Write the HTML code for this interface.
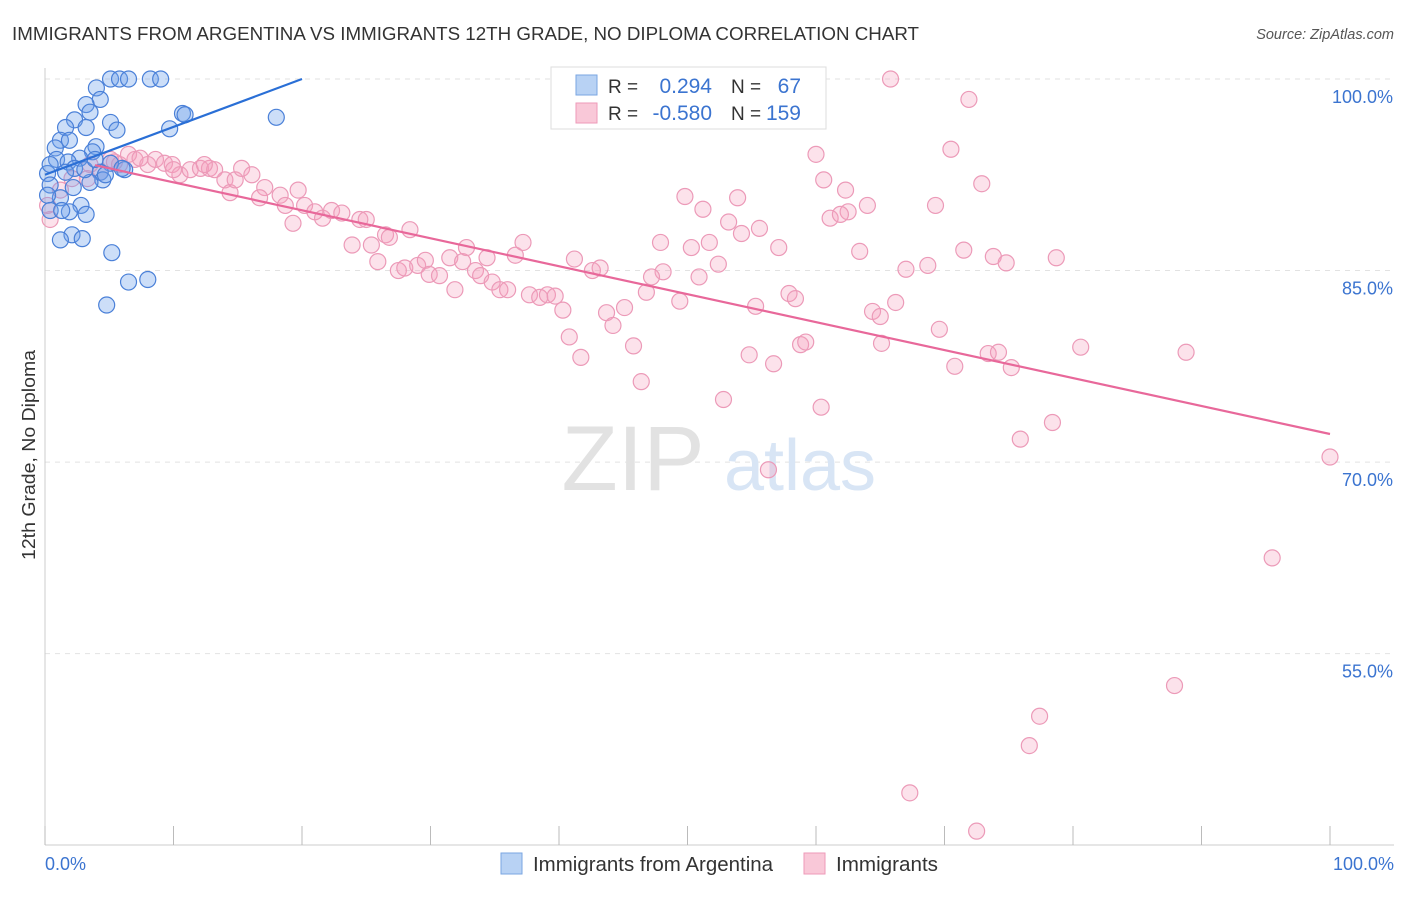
<!DOCTYPE html>
<html><head><meta charset="utf-8"><style>
body{margin:0;background:#fff;font-family:"Liberation Sans",sans-serif;}
svg text{font-family:"Liberation Sans",sans-serif;}
</style></head><body>
<svg id="chart" width="1406" height="892">
<text x="12" y="40" font-size="18.6" fill="#333" textLength="907" lengthAdjust="spacingAndGlyphs">IMMIGRANTS FROM ARGENTINA VS IMMIGRANTS 12TH GRADE, NO DIPLOMA CORRELATION CHART</text>
<text x="1394" y="39" font-size="14.5" fill="#555" font-style="italic" text-anchor="end">Source: ZipAtlas.com</text>
<text transform="translate(35,455) rotate(-90)" font-size="18" fill="#333" text-anchor="middle" textLength="210" lengthAdjust="spacingAndGlyphs">12th Grade, No Diploma</text>
<g id="grid"></g>
<g>
<text x="633" y="490" font-size="92" fill="#e2e2e2" font-family="Liberation Serif" text-anchor="middle">ZIP</text>
<text x="800" y="490" font-size="72" fill="#d8e5f5" text-anchor="middle">atlas</text>
</g>
<g id="pts"></g>
<g id="lines"></g>
<g>
<rect x="551" y="67" width="275" height="62" fill="#fff" stroke="#ddd"/>
<rect x="576" y="75" width="21" height="20" fill="#b8d2f4" stroke="#7aa6e2"/>
<rect x="576" y="103" width="21" height="20" fill="#f9c8d8" stroke="#ee9ab8"/>
<text x="608" y="93" font-size="19" fill="#333">R = </text><text x="712" y="93" font-size="21" fill="#3b74d0" text-anchor="end">0.294</text>
<text x="731" y="93" font-size="19" fill="#333">N = </text><text x="801" y="93" font-size="21" fill="#3b74d0" text-anchor="end">67</text>
<text x="608" y="120" font-size="19" fill="#333">R = </text><text x="712" y="120" font-size="21" fill="#3b74d0" text-anchor="end">-0.580</text>
<text x="731" y="120" font-size="19" fill="#333">N = </text><text x="801" y="120" font-size="21" fill="#3b74d0" text-anchor="end">159</text>
</g>
<g>
<rect x="501" y="853" width="21" height="21" fill="#b8d2f4" stroke="#7aa6e2"/>
<text x="533" y="871" font-size="20" fill="#333" textLength="240" lengthAdjust="spacingAndGlyphs">Immigrants from Argentina</text>
<rect x="804" y="853" width="21" height="21" fill="#f9c8d8" stroke="#ee9ab8"/>
<text x="836" y="871" font-size="20" fill="#333" textLength="102" lengthAdjust="spacingAndGlyphs">Immigrants</text>
</g>
</svg>
<script>
const xTicks=[0,10,20,30,40,50,60,70,80,90,100];
const yTicks=[100,85,70,55];
const yTickLabels=["100.0%","85.0%","70.0%","55.0%"];
const xEndLabels=["0.0%","100.0%"];
const blueX=[5.1,5.8,6.5,8.2,9.0,4.0,4.3,3.2,3.5,10.7,10.9,18.0,2.3,5.1,1.6,3.2,5.6,9.7,1.2,1.9,0.8,3.97,3.7,2.7,0.9,1.8,5.1,2.3,1.6,0.2,4.3,6.2,4.5,3.5,0.4,2.2,1.2,0.2,2.8,0.4,1.9,1.3,3.2,2.1,1.2,2.9,5.2,6.5,8.0,4.8,0.4,3.1,3.9,4.7,6.0];
const blueY=[100,100,100,100,100,99.3,98.4,98.0,97.4,97.3,97.2,97.0,96.8,96.6,96.2,96.2,96.0,96.1,95.2,95.2,94.6,94.7,94.3,93.8,93.7,93.5,93.4,93.0,92.7,92.6,92.7,92.9,92.1,91.9,91.7,91.5,90.7,90.9,90.1,89.7,89.6,89.7,89.4,87.8,87.4,87.5,86.4,84.1,84.3,82.3,93.3,92.9,93.7,92.5,93.0];
const pinkX=[65.8,71.9,70.5,60.0,72.9,60.6,62.3,49.8,53.9,64.0,69.3,51.2,62.5,61.1,61.9,53.2,55.6,54.2,47.9,51.7,50.3,57.1,63.4,71.5,73.8,74.8,78.7,52.4,68.7,67.0,41.2,42.6,43.2,48.1,47.2,50.9,46.8,49.4,57.9,58.4,55.3,66.2,64.4,65.0,69.6,45.1,43.7,44.2,40.8,45.8,41.7,46.4,54.8,56.7,58.8,59.2,65.1,70.8,73.4,74.2,75.2,80.6,88.8,52.8,60.4,75.9,78.4,56.3,100,95.5,87.9,77.4,76.6,67.3,72.5,
0.4,0.2,1.2,2.1,3.3,4.3,5.1,5.8,7.0,8.0,8.6,9.3,9.9,10.5,11.3,12.1,12.8,13.2,14.0,14.4,14.8,15.3,16.1,17.1,16.7,18.3,18.7,19.3,19.7,20.2,21.0,21.6,22.3,23.1,23.9,24.5,25.0,25.4,25.9,26.5,26.8,27.5,28.0,28.4,29.0,29.6,29.9,30.7,31.5,31.9,32.5,32.8,33.5,33.9,34.4,34.8,35.4,36.0,36.6,37.2,37.7,38.5,39.1,39.7,40.3,3.5,5.4,6.5,7.4,10.0,12.4];
const pinkY=[100,98.4,94.5,94.1,91.8,92.1,91.3,90.8,90.7,90.1,90.1,89.8,89.6,89.1,89.4,88.8,88.3,87.9,87.2,87.2,86.8,86.8,86.5,86.6,86.1,85.6,86.0,85.5,85.4,85.1,85.9,85.0,85.2,84.9,84.5,84.5,83.3,82.6,83.2,82.8,82.2,82.5,81.8,81.4,80.4,82.1,81.7,80.7,79.8,79.1,78.2,76.3,78.4,77.7,79.2,79.4,79.3,77.5,78.5,78.6,77.4,79.0,78.6,74.9,74.3,71.8,73.1,69.4,70.4,62.5,52.5,50.1,47.8,44.1,41.1,
89.0,90.1,91.3,92.2,92.2,92.7,93.7,93.3,93.7,93.3,93.7,93.4,93.3,92.5,92.9,93.0,93.0,92.9,92.1,91.1,92.1,93.0,92.5,91.5,90.7,90.9,90.1,88.7,91.3,90.1,89.6,89.1,89.7,89.5,87.0,89.0,89.0,87.0,85.7,87.8,87.6,85.0,85.2,88.2,85.4,85.8,84.7,84.6,86.0,83.5,85.7,86.8,85.0,84.6,86.0,84.1,83.5,83.5,86.2,87.2,83.1,82.9,83.1,83.0,81.9,93.3,93.5,94.1,93.8,92.9,93.3];
const blueTrend=[[0,92.5],[20,100]];
const pinkTrend=[[0,94.1],[100,72.2]];
const X0=45,X1=1330,Y100=79,PXPCT=12.77;
const sx=v=>X0+(X1-X0)*v/100;
const sy=v=>Y100+(100-v)*PXPCT;
const NS="http://www.w3.org/2000/svg";
function mk(tag,attrs,parent){const e=document.createElementNS(NS,tag);for(const k in attrs)e.setAttribute(k,attrs[k]);parent.appendChild(e);return e;}
const grid=document.getElementById('grid');
yTicks.forEach((t,i)=>{
  const l=mk('line',{x1:45,x2:1394,y1:sy(t),y2:sy(t),stroke:'#e2e2e2','stroke-dasharray':'5,5'},grid);
  
  
  const tx=mk('text',{x:1393,y:sy(t)+24,'font-size':18,fill:'#3b74d0','text-anchor':'end'},grid);
  tx.textContent=yTickLabels[i];
  
  
});
const ax=mk('line',{x1:45,x2:1394,y1:845,y2:845,stroke:'#ccc'},grid);


const ay=mk('line',{x1:45,x2:45,y1:68,y2:845,stroke:'#ccc'},grid);


xTicks.forEach(t=>{
  const l=mk('line',{x1:sx(t),x2:sx(t),y1:826,y2:845,stroke:'#bbb'},grid);
  
  
});
[[0,'start',45],[100,'end',1394]].forEach((a,i)=>{
  const tx=mk('text',{x:a[2],y:870,'font-size':18,fill:'#3b74d0','text-anchor':a[1]},grid);
  tx.textContent=xEndLabels[i];
  
  
});
const pts=document.getElementById('pts');
pinkX.forEach((x,i)=>{
  const c=mk('circle',{cx:sx(x),cy:sy(pinkY[i]),r:8,fill:'rgba(244,160,190,0.3)',stroke:'#ec9ab8','stroke-width':1.2},pts);
  
  
});
blueX.forEach((x,i)=>{
  const c=mk('circle',{cx:sx(x),cy:sy(blueY[i]),r:8,fill:'rgba(110,160,235,0.35)',stroke:'#4a80d8','stroke-width':1.2},pts);
  
  
});
const lines=document.getElementById('lines');
const bl=mk('line',{x1:sx(blueTrend[0][0]),y1:sy(blueTrend[0][1]),x2:sx(blueTrend[1][0]),y2:sy(blueTrend[1][1]),stroke:'#2a6fd6','stroke-width':2.2},lines);


const pl=mk('line',{x1:sx(pinkTrend[0][0])+50,y1:sy(pinkTrend[0][1]+(pinkTrend[1][1]-pinkTrend[0][1])*50/(X1-X0)),x2:sx(pinkTrend[1][0]),y2:sy(pinkTrend[1][1]),stroke:'#e8689a','stroke-width':2.2},lines);


</script>
</body></html>
